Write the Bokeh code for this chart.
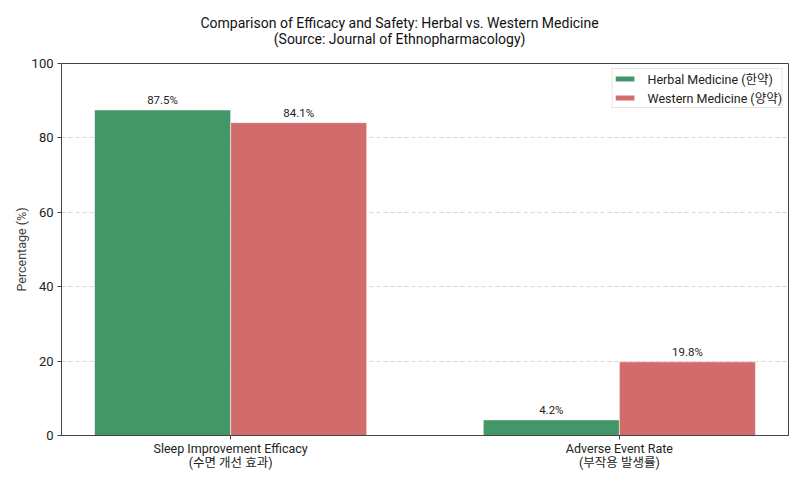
from bokeh.plotting import figure
from bokeh.models import ColumnDataSource, FixedTicker, Title, Range1d, Legend, LegendItem
from bokeh.transform import dodge
from bokeh.embed import file_html
from bokeh.resources import INLINE
from bokeh.core.properties import value

title_text = "Comparison of Efficacy and Safety: Herbal vs. Western Medicine\n(Source: Journal of Ethnopharmacology)"
categories = ["Sleep Improvement Efficacy\n(수면 개선 효과)", "Adverse Event Rate\n(부작용 발생률)"]
herbal = [87.5, 4.2]
western = [84.1, 19.8]
series_names = ["Herbal Medicine (한약)", "Western Medicine (양약)"]
colors = ["#439668", "#D26C6C"]
y_ticks = [0, 20, 40, 60, 80, 100]

FONT = "Roboto, 'Noto Sans CJK KR', sans-serif"

xs = list(range(len(categories)))
src = ColumnDataSource(dict(
    x=xs, herbal=herbal, western=western,
    hl=[f"{v:.1f}%" for v in herbal], wl=[f"{v:.1f}%" for v in western],
))

p = figure(width=792, height=472, output_backend="svg", toolbar_location=None,
           x_range=Range1d(-0.435, 1.435), y_range=Range1d(0, 100),
           min_border_left=61, min_border_right=4, min_border_top=63, min_border_bottom=37)

w = 0.35
r1 = p.vbar(x=dodge("x", -w / 2), top="herbal", width=w, source=src,
            fill_color=colors[0], line_color="white", line_width=0.5)
r2 = p.vbar(x=dodge("x", w / 2), top="western", width=w, source=src,
            fill_color=colors[1], line_color="white", line_width=0.5)

p.text(x=dodge("x", -w / 2), y="herbal", text="hl", source=src, text_align="center",
       text_baseline="bottom", y_offset=-3, text_font_size="11.5px", text_color="#222222",
       text_font=value(FONT))
p.text(x=dodge("x", w / 2), y="western", text="wl", source=src, text_align="center",
       text_baseline="bottom", y_offset=-3, text_font_size="11.5px", text_color="#222222",
       text_font=value(FONT))

legend = Legend(items=[LegendItem(label=series_names[0], renderers=[r1]),
                       LegendItem(label=series_names[1], renderers=[r2])],
                location="top_right", label_text_font=FONT, label_text_font_size="12.5px",
                label_text_color="#222222", border_line_color="#cccccc", border_line_width=1,
                margin=5, padding=0, spacing=-2, glyph_width=24, glyph_height=7,
                label_height=14, label_standoff=11, background_fill_alpha=0.9)
p.add_layout(legend)

p.add_layout(Title(text=title_text, align="left", text_align="center", offset=139,
                   vertical_align="top",
                   text_font="Roboto", text_font_size="14px", text_font_style="normal",
                   text_line_height=1.05, text_color="#111111", standoff=28), "above")

p.xaxis.ticker = FixedTicker(ticks=xs)
p.xaxis.major_label_overrides = {i: c for i, c in zip(xs, categories)}
p.yaxis.ticker = FixedTicker(ticks=y_ticks)
p.yaxis.axis_label = "Percentage (%)"
p.yaxis.axis_label_text_font = FONT
p.yaxis.axis_label_text_font_style = "normal"
p.yaxis.axis_label_text_font_size = "12.5px"
p.yaxis.axis_label_standoff = 0
for ax in (p.xaxis, p.yaxis):
    ax.major_label_text_font = FONT
    ax.major_label_text_color = "#222222"
    ax.axis_line_color = "#444444"
    ax.major_tick_line_color = "#444444"
    ax.major_tick_in = 0
    ax.major_tick_out = 4
    ax.minor_tick_line_color = None
p.xaxis.major_label_text_font_size = "12.5px"
p.xaxis.major_label_text_line_height = 0.95
p.yaxis.major_label_text_font_size = "13px"
p.xaxis.major_label_standoff = 1
p.yaxis.major_label_standoff = 4

p.xgrid.grid_line_color = None
p.ygrid.grid_line_color = "#cccccc"
p.ygrid.grid_line_dash = "4 3"
p.ygrid.grid_line_alpha = 0.8
p.outline_line_color = "#444444"
p.outline_line_width = 1

open("out.html", "w").write(file_html(p, INLINE))
